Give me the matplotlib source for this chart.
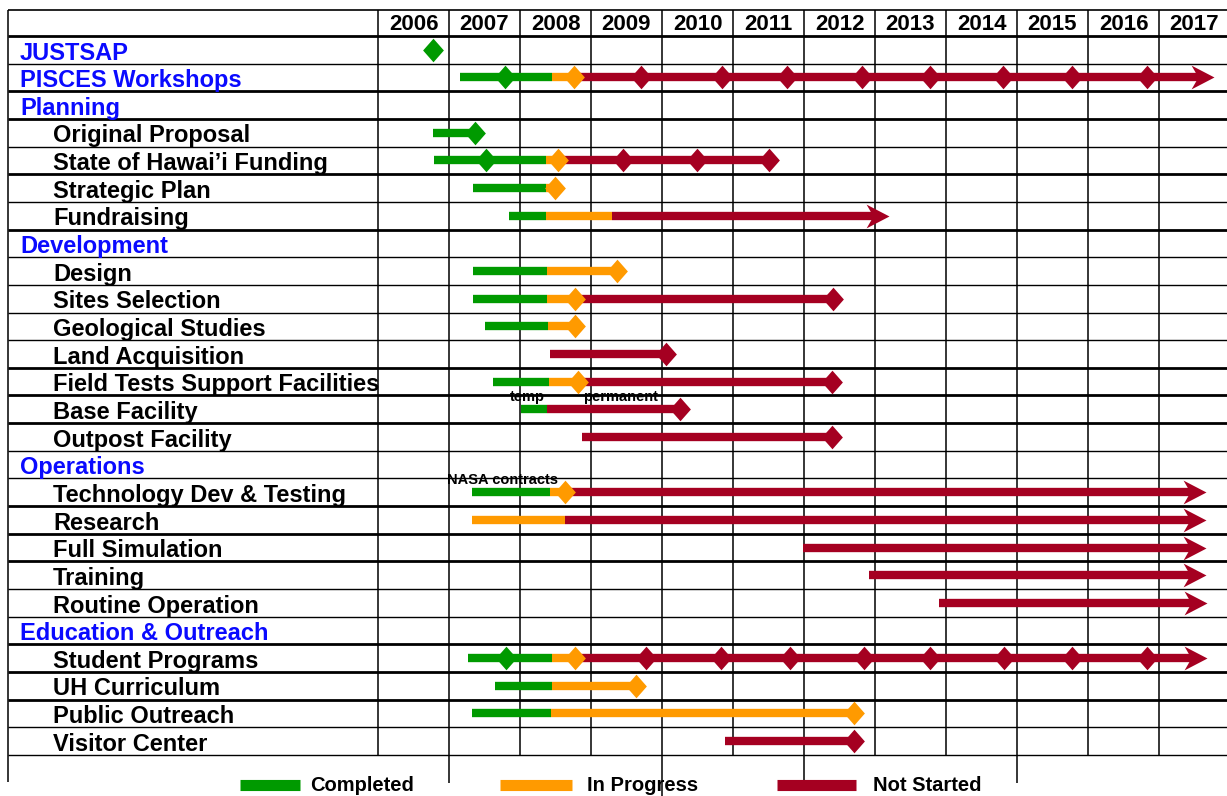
import matplotlib.pyplot as plt

plt.rcParams['font.family'] = ['Liberation Sans', 'DejaVu Sans']

years = list(range(2006, 2018))
tasks = ["JUSTSAP", "PISCES Workshops", "Planning", "Original Proposal",
         "State of Hawai’i Funding", "Strategic Plan", "Fundraising",
         "Development", "Design", "Sites Selection", "Geological Studies",
         "Land Acquisition", "Field Tests Support Facilities", "Base Facility",
         "Outpost Facility", "Operations", "Technology Dev & Testing", "Research",
         "Full Simulation", "Training", "Routine Operation", "Education & Outreach",
         "Student Programs", "UH Curriculum", "Public Outreach", "Visitor Center"]
sections = ["JUSTSAP", "PISCES Workshops", "Planning", "Development",
            "Operations", "Education & Outreach"]

# (task, start, end) in fractional years
completed = [
    ("PISCES Workshops", 2007.16, 2008.45),
    ("Original Proposal", 2006.77, 2007.37),
    ("State of Hawai’i Funding", 2006.79, 2008.37),
    ("Strategic Plan", 2007.34, 2008.37),
    ("Fundraising", 2007.85, 2008.36),
    ("Design", 2007.34, 2008.38),
    ("Sites Selection", 2007.34, 2008.38),
    ("Geological Studies", 2007.50, 2008.39),
    ("Field Tests Support Facilities", 2007.62, 2008.41),
    ("Base Facility", 2008.01, 2008.38),
    ("Technology Dev & Testing", 2007.33, 2008.42),
    ("Student Programs", 2007.27, 2008.45),
    ("UH Curriculum", 2007.65, 2008.45),
    ("Public Outreach", 2007.33, 2008.44),
]
in_progress = [
    ("PISCES Workshops", 2008.45, 2008.76),
    ("State of Hawai’i Funding", 2008.37, 2008.53),
    ("Strategic Plan", 2008.37, 2008.49),
    ("Fundraising", 2008.36, 2009.29),
    ("Design", 2008.38, 2009.36),
    ("Sites Selection", 2008.38, 2008.78),
    ("Geological Studies", 2008.39, 2008.78),
    ("Field Tests Support Facilities", 2008.41, 2008.82),
    ("Technology Dev & Testing", 2008.42, 2008.63),
    ("Research", 2007.33, 2008.63),
    ("Student Programs", 2008.45, 2008.77),
    ("UH Curriculum", 2008.45, 2009.64),
    ("Public Outreach", 2008.44, 2012.70),
]
not_started = [
    ("PISCES Workshops", 2008.76, 2017.77),
    ("State of Hawai’i Funding", 2008.53, 2011.51),
    ("Fundraising", 2009.29, 2013.20),
    ("Sites Selection", 2008.78, 2012.41),
    ("Land Acquisition", 2008.42, 2010.06),
    ("Field Tests Support Facilities", 2008.82, 2012.39),
    ("Base Facility", 2008.38, 2010.25),
    ("Outpost Facility", 2008.88, 2012.39),
    ("Technology Dev & Testing", 2008.63, 2017.66),
    ("Research", 2008.63, 2017.66),
    ("Full Simulation", 2011.98, 2017.66),
    ("Training", 2012.91, 2017.66),
    ("Routine Operation", 2013.90, 2017.68),
    ("Student Programs", 2008.77, 2017.68),
    ("Visitor Center", 2010.89, 2012.70),
]
# these run on past the chart and end in an arrow
ongoing = ["PISCES Workshops", "Fundraising", "Technology Dev & Testing", "Research",
           "Full Simulation", "Training", "Routine Operation", "Student Programs"]

done_milestones = {
    "JUSTSAP": [2006.78],
    "PISCES Workshops": [2007.79],
    "Original Proposal": [2007.37],
    "State of Hawai’i Funding": [2007.52],
    "Student Programs": [2007.80],
}
current_milestones = {
    "PISCES Workshops": [2008.76],
    "State of Hawai’i Funding": [2008.53],
    "Strategic Plan": [2008.49],
    "Design": [2009.36],
    "Sites Selection": [2008.78],
    "Geological Studies": [2008.78],
    "Field Tests Support Facilities": [2008.82],
    "Technology Dev & Testing": [2008.63],
    "Student Programs": [2008.77],
    "UH Curriculum": [2009.64],
    "Public Outreach": [2012.70],
}
future_milestones = {
    "PISCES Workshops": [2009.71, 2010.84, 2011.76, 2012.81, 2013.77, 2014.80, 2015.78, 2016.83],
    "State of Hawai’i Funding": [2009.45, 2010.49, 2011.51],
    "Sites Selection": [2012.41],
    "Land Acquisition": [2010.06],
    "Field Tests Support Facilities": [2012.39],
    "Base Facility": [2010.25],
    "Outpost Facility": [2012.39],
    "Student Programs": [2009.78, 2010.83, 2011.80, 2012.84, 2013.77, 2014.81, 2015.78, 2016.83],
    "Visitor Center": [2012.70],
}
notes = [("temp", "Base Facility", 2008.11),
         ("permanent", "Base Facility", 2009.41),
         ("NASA contracts", "Technology Dev & Testing", 2007.76)]

legend_labels = ["Completed", "In Progress", "Not Started"]

GREEN = "#009a00"
ORANGE = "#ff9a00"
RED = "#a50021"
BLUE = "#0a0aff"
colors = [GREEN, ORANGE, RED]

# layout: pixels of the original slide -> years / rows
PX_YEAR, X0 = 71.0, 378.0
ROW_H, Y0 = 27.65, 36.0
W, H = 1227, 796
def xpx(p):
    return years[0] + (p - X0) / PX_YEAR
def ypx(p):
    return (p - Y0) / ROW_H

DIAMOND = [(0, 1), (0.88, 0), (0, -1), (-0.88, 0)]
ARROW = [(0, 0), (-1, 0.52), (-0.7, 0), (-1, -0.52)]

fig = plt.figure(figsize=(W / 100, H / 100), dpi=100)
ax = fig.add_axes([0, 0, 1, 1])
ax.set_xlim(xpx(0), xpx(W))
ax.set_ylim(ypx(H), ypx(0))
ax.axis('off')

row = {t: i for i, t in enumerate(tasks)}
n = len(tasks)
left = xpx(8)
top = ypx(10)

# table grid
thick = [1, 0, 1, 1, 0, 1, 0, 1, 0, 0, 0, 0, 1, 1, 1, 0, 0, 1, 1, 1, 0, 0, 1, 1, 1, 0, 0]
ax.hlines(top, left, xpx(W), color='black', lw=1.2, zorder=1)
for i, t in enumerate(thick):
    ax.hlines(i, left, xpx(W), color='black', lw=2.0 if t else 1.0, zorder=1)
ax.vlines([left] + years, top, n, color='black', lw=1.1, zorder=1)
ax.vlines(left, n, ypx(782), color='black', lw=1.1, zorder=1)
ax.vlines([2007, 2012, 2015], n, ypx(783), color='black', lw=1.1, zorder=1)
ax.vlines(2010, n, ypx(H), color='black', lw=1.1, zorder=1)

for yr in years:
    ax.text(yr + 0.5, -0.2, str(yr), ha='center', va='baseline',
            fontsize=16, fontweight='bold')

for t in tasks:
    if t in sections:
        ax.text(xpx(20), row[t] + 0.85, t, color=BLUE, fontsize=17,
                fontweight='bold', va='baseline')
    else:
        ax.text(xpx(53), row[t] + 0.85, t, color='black', fontsize=17,
                fontweight='bold', va='baseline')

# bars
bar_lw = 6
for t, a, b in not_started:
    end = b - 0.15 if t in ongoing else b
    ax.plot([a, end], [row[t] + 0.5] * 2, color=RED, lw=bar_lw,
            solid_capstyle='butt', zorder=3)
    if t in ongoing:
        ax.plot(b, row[t] + 0.5, marker=ARROW, ms=33, color=RED, mew=0, zorder=4)
for t, a, b in in_progress:
    ax.plot([a, b], [row[t] + 0.5] * 2, color=ORANGE, lw=bar_lw,
            solid_capstyle='butt', zorder=3.2)
for t, a, b in completed:
    ax.plot([a, b], [row[t] + 0.5] * 2, color=GREEN, lw=bar_lw,
            solid_capstyle='butt', zorder=3.4)

# milestones
for ms_dict, c, z in [(future_milestones, RED, 5), (current_milestones, ORANGE, 5.2),
                      (done_milestones, GREEN, 5.4)]:
    for t, xs in ms_dict.items():
        ax.plot(xs, [row[t] + 0.5] * len(xs), ls='none', marker=DIAMOND, ms=17,
                color=c, mew=0, zorder=z)

for label, t, x in notes:
    ax.text(x, row[t] + 0.06, label, ha='center', va='center', fontsize=10.5,
            fontweight='bold', zorder=6)

# legend
swatches = [(240, 300, 310), (500, 572, 587), (777, 856, 873)]
for (a, b, tx), c, lab in zip(swatches, colors, legend_labels):
    ax.plot([xpx(a), xpx(b)], [ypx(784.5)] * 2, color=c, lw=8,
            solid_capstyle='butt', zorder=3)
    ax.text(xpx(tx), ypx(791), lab, fontsize=14.5, fontweight='bold',
            va='baseline', zorder=6)

fig.savefig('out.png', dpi=100)
